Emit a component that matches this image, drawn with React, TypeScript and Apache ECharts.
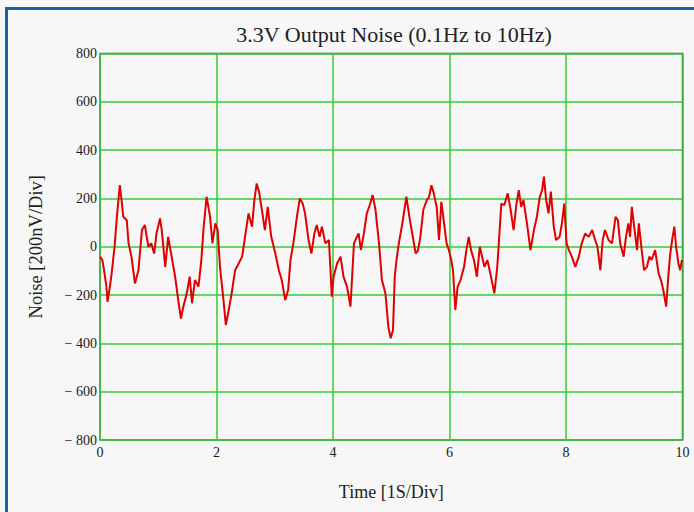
import React, { useEffect, useRef } from "react";
import * as echarts from "echarts";

const timeS = [
  0, 0.04, 0.07, 0.11, 0.13, 0.17, 0.2, 0.25, 0.29, 0.34, 0.37, 0.4, 0.46, 0.49, 0.54, 0.6, 0.66, 0.72, 0.77, 0.83, 0.88, 0.93, 0.97,
  1.03, 1.06, 1.12, 1.17, 1.23, 1.29, 1.35, 1.39, 1.43, 1.49, 1.54, 1.58, 1.63, 1.69, 1.74, 1.78, 1.83, 1.89, 1.93, 1.98,
  2.02, 2.06, 2.12, 2.16, 2.21, 2.26, 2.32, 2.38, 2.44, 2.49, 2.55, 2.61, 2.65, 2.69, 2.73, 2.78, 2.83, 2.88, 2.94,
  3.01, 3.07, 3.12, 3.18, 3.23, 3.27, 3.32, 3.38, 3.43, 3.48, 3.52, 3.58, 3.63, 3.68, 3.72, 3.77, 3.81, 3.87, 3.93, 3.98,
  4.01, 4.07, 4.13, 4.18, 4.24, 4.3, 4.36, 4.41, 4.44, 4.48, 4.53, 4.58, 4.64, 4.68, 4.73, 4.79, 4.84, 4.9, 4.95, 4.99,
  5.03, 5.06, 5.09, 5.13, 5.19, 5.26, 5.32, 5.36, 5.42, 5.46, 5.5, 5.55, 5.61, 5.65, 5.69, 5.73, 5.78, 5.82, 5.86, 5.9, 5.95, 5.99,
  6.03, 6.06, 6.1, 6.14, 6.19, 6.25, 6.29, 6.33, 6.37, 6.42, 6.47, 6.52, 6.56, 6.6, 6.65, 6.7, 6.77, 6.82, 6.85, 6.89, 6.94,
  7.0, 7.05, 7.1, 7.15, 7.19, 7.23, 7.27, 7.33, 7.39, 7.45, 7.5, 7.55, 7.59, 7.62, 7.66, 7.7, 7.74, 7.79, 7.83, 7.89, 7.93, 7.97,
  8.01, 8.05, 8.1, 8.16, 8.22, 8.27, 8.33, 8.39, 8.45, 8.5, 8.54, 8.59, 8.63, 8.67, 8.73, 8.79, 8.85, 8.89, 8.93, 8.99,
  9.03, 9.07, 9.1, 9.13, 9.17, 9.22, 9.25, 9.3, 9.34, 9.39, 9.43, 9.47, 9.53, 9.59, 9.63, 9.67, 9.72, 9.76, 9.79, 9.83, 9.86, 9.89, 9.93, 9.96, 9.99,
];

const noiseNV = [
  -41, -55, -97, -165, -228, -165, -110, 0, 124, 255, 193, 124, 110, 14, -41, -152, -97, 69, 90, 0, 14, -28, 55,
  117, 69, -83, 41, -41, -124, -234, -297, -248, -193, -124, -234, -138, -165, -55, 83, 207, 124, 14, 97,
  69, -83, -221, -324, -262, -193, -97, -69, -41, 41, 138, 83, 193, 262, 228, 152, 69, 165, 41,
  -28, -97, -138, -221, -179, -55, 14, 124, 200, 179, 138, 28, -28, 55, 90, 41, 83, 14, 28, -207,
  -124, -69, -41, -124, -165, -248, 14, 41, 55, -14, 55, 138, 179, 214, 152, 14, -138, -193, -331, -379,
  -345, -124, -55, 14, 97, 207, 110, 55, -28, -14, 41, 152, 193, 207, 255, 221, 165, 28, 186, 110, 14, -14,
  -55, -97, -262, -165, -138, -83, -14, 41, -14, -55, -124, 0, -41, -83, -55, -110, -193, -83, 28, 179, 172,
  221, 152, 69, 179, 234, 165, 193, 97, -14, 69, 124, 207, 234, 290, 193, 138, 228, 83, 28, 41, 97, 179,
  14, -14, -41, -83, -41, 14, 55, 41, 69, 28, 0, -97, 28, 69, 28, 14, 124, 110, 14, -41,
  41, 97, 41, 165, 83, -14, 97, -14, -97, -83, -41, -55, -14, -110, -138, -179, -248, -110, -28, 41, 83, 0, -69, -97, -55,
];

const xTicks = [0, 2, 4, 6, 8, 10];
const yTicks = [-800, -600, -400, -200, 0, 200, 400, 600, 800];

export default function App() {
  const ref = useRef<HTMLDivElement>(null);
  useEffect(() => {
    document.body.style.margin = "0";
    document.body.style.background = "#f7f7f7";
    const chart = echarts.init(ref.current!, null, { renderer: "svg" });
    const serif = "Liberation Serif";
    const labelStyle = { fontFamily: serif, fontSize: 14, color: "#1a1a1a" };
    chart.setOption({
      animation: false,
      backgroundColor: "#f7f7f7",
      title: {
        text: "3.3V Output Noise (0.1Hz to 10Hz)",
        left: 389,
        top: 18,
        textAlign: "center",
        textStyle: { fontFamily: serif, fontSize: 22, fontWeight: "normal", color: "#222" },
      },
      graphic: [
        {
          type: "rect",
          shape: { x: 6.5, y: 8.5, width: 720, height: 540 },
          style: { fill: "none", stroke: "#1b5eaa", lineWidth: 3 },
          silent: true,
        },
      ],
      grid: { left: 100, top: 53.5, right: 11.5, bottom: 72, show: true, borderColor: "#555", borderWidth: 1.5 },
      xAxis: {
        type: "value",
        min: xTicks[0],
        max: xTicks[xTicks.length - 1],
        interval: 2,
        name: "Time [1S/Div]",
        nameLocation: "middle",
        nameGap: 43,
        nameTextStyle: { fontFamily: serif, fontSize: 18, color: "#222" },
        axisTick: { show: false },
        axisLine: { show: false },
        axisLabel: { ...labelStyle, margin: 5 },
        splitLine: { show: true, lineStyle: { color: "#33cc33", width: 1.5 } },
      },
      yAxis: {
        type: "value",
        min: yTicks[0],
        max: yTicks[yTicks.length - 1],
        interval: 200,
        name: "Noise [200nV/Div]",
        nameLocation: "middle",
        nameGap: 55,
        nameTextStyle: { fontFamily: serif, fontSize: 18.5, color: "#222" },
        axisTick: { show: false },
        axisLine: { show: false },
        axisLabel: {
          ...labelStyle,
          margin: 3,
          formatter: (v: number) => (v < 0 ? "\u2212 " + Math.abs(v) : String(v)),
        },
        splitLine: { show: true, lineStyle: { color: "#33cc33", width: 1.5 } },
      },
      series: [
        {
          type: "line",
          data: timeS.map((t, i) => [t, noiseNV[i]]),
          showSymbol: false,
          lineStyle: { color: "#e00000", width: 2 },
          z: 5,
        },
      ],
    });
    return () => chart.dispose();
  }, []);
  return <div ref={ref} style={{ width: 694, height: 512 }} />;
}
